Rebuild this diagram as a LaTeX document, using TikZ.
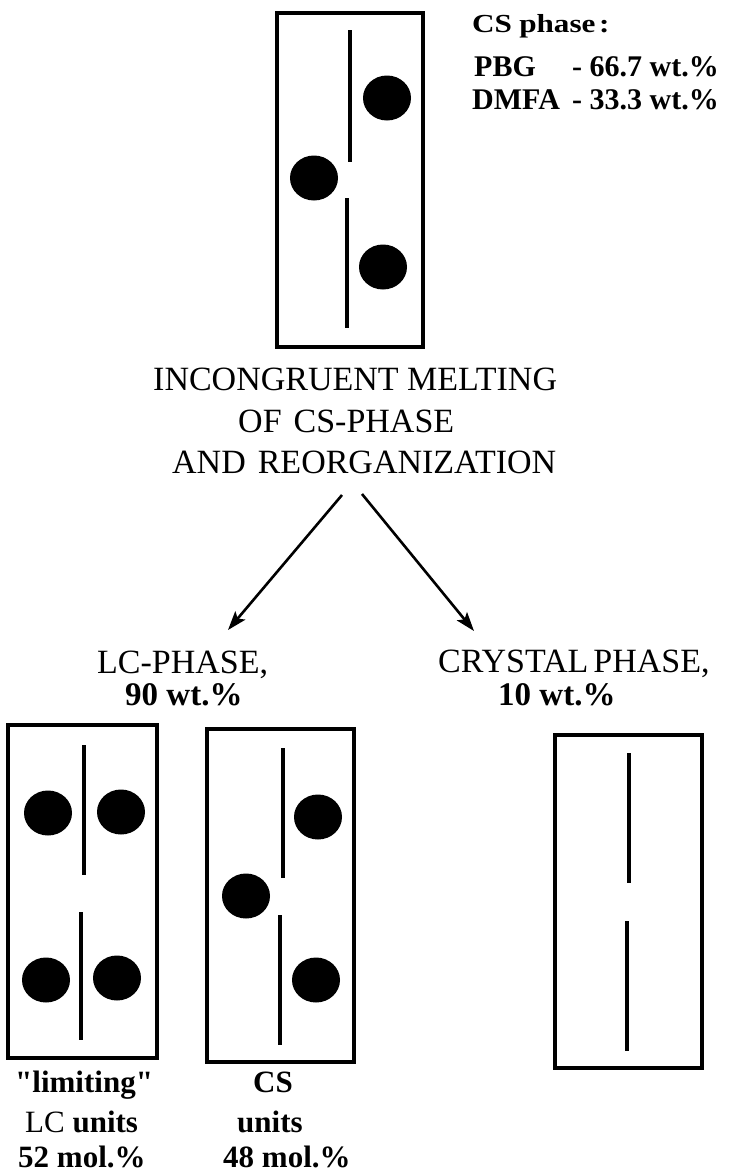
\documentclass[tikz,border=0pt]{standalone}
\usepackage{fontspec}
\setmainfont{Liberation Serif}
\usetikzlibrary{shapes.geometric,arrows.meta}

\begin{document}
\begin{tikzpicture}[x=1pt,y=-1pt,
  cell/.style={draw, line width=4pt, rectangle, inner sep=0pt},
  rod/.style={line width=3.6pt},
  bead/.style={ellipse, fill=black, inner sep=0pt, minimum width=48pt, minimum height=45pt},
  lbl/.style={anchor=base west, inner sep=0pt},
  capsfont/.style={font=\fontsize{34}{40}\selectfont},
  numfont/.style={font=\fontsize{33}{40}\selectfont\bfseries},
  smallfont/.style={font=\fontsize{31}{38}\selectfont},
  flow/.style={line width=2.6pt, -{Stealth[length=19pt,width=13pt,inset=4pt]}}]

\useasboundingbox (0,0) rectangle (733,1176);

% ---- initial CS phase ----
\node[cell, minimum width=146pt, minimum height=334pt] (csbox) at (350,180) {};
\draw[rod] (350,30) -- (350,162);
\draw[rod] (347,198) -- (347,328);
\node[bead] (cs1) at (387,98) {};
\node[bead] (cs2) at (314,178) {};
\node[bead] (cs3) at (383,267) {};

\node[lbl, font=\fontsize{26}{30}\selectfont\bfseries] (cshead) at (472,32)
  {\scalebox{1.2}[1]{CS\hspace{6pt}phase\hspace{3pt}:}};
\node[lbl, font=\fontsize{30}{36}\selectfont\bfseries] (pbg) at (474,76)
  {\makebox[98pt][l]{PBG}- 66.7 wt.\%};
\node[lbl, font=\fontsize{30}{36}\selectfont\bfseries] (dmfa) at (472,109)
  {\makebox[100pt][l]{DMFA}- 33.3 wt.\%};

% ---- process ----
\node[lbl, capsfont] (t1) at (153,390) {INCONGRUENT MELTING};
\node[lbl, capsfont] (t2) at (238,432) {OF\hspace{12pt}CS-PHASE};
\node[lbl, capsfont] (t3) at (172,473) {AND\hspace{12pt}REORGANIZATION};

\coordinate (fromL) at (342,495);
\coordinate (toL) at (228,630);
\coordinate (fromR) at (362,494);
\coordinate (toR) at (474,631);
\draw[flow] (fromL) -- (toL);
\draw[flow] (fromR) -- (toR);

% ---- LC phase ----
\node[lbl, capsfont] (lchead) at (97,673) {LC-PHASE,};
\node[lbl, numfont] (lcwt) at (125,705) {90 wt.\%};

\node[cell, minimum width=149pt, minimum height=333pt] (limbox) at (82.5,891.5) {};
\draw[rod] (84,745) -- (84,875);
\draw[rod] (81,912) -- (81,1040);
\node[bead] (l1) at (48,813) {};
\node[bead] (l2) at (121,812) {};
\node[bead] (l3) at (46,980) {};
\node[bead] (l4) at (117,978) {};

\node[cell, minimum width=147pt, minimum height=333pt] (unitbox) at (280.5,895.5) {};
\draw[rod] (283,748) -- (283,878);
\draw[rod] (280,915) -- (280,1045);
\node[bead] (u1) at (318,817) {};
\node[bead] (u2) at (246,896) {};
\node[bead] (u3) at (316,980) {};

\node[lbl, smallfont] (lim1) at (15,1092) {\bfseries \textquotedbl limiting\textquotedbl};
\node[lbl, smallfont] (lim2) at (25,1132) {LC \bfseries units};
\node[lbl, smallfont] (lim3) at (18,1167) {\bfseries 52 mol.\%};
\node[lbl, smallfont] (cu1) at (253,1092) {\bfseries CS};
\node[lbl, smallfont] (cu2) at (237,1132) {\bfseries units};
\node[lbl, smallfont] (cu3) at (223,1167) {\bfseries 48 mol.\%};

% ---- crystal phase ----
\node[lbl, capsfont] (crhead) at (438,672) {CRYSTAL\hspace{5pt}PHASE,};
\node[lbl, numfont] (crwt) at (498,705) {10 wt.\%};

\node[cell, minimum width=147pt, minimum height=333pt] (crbox) at (628.5,901.5) {};
\draw[rod] (629,753) -- (629,883);
\draw[rod] (627,921) -- (627,1051);

\end{tikzpicture}
\end{document}
